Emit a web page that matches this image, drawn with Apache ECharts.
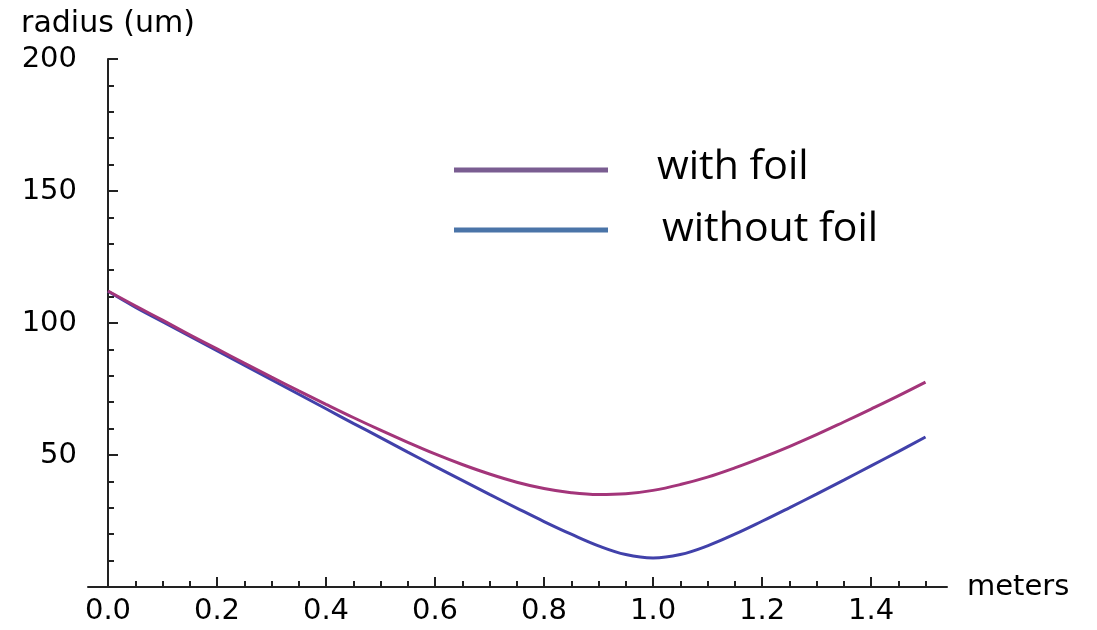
<!DOCTYPE html>
<html>
<head>
<meta charset="utf-8">
<title>Beam radius vs distance</title>
<script src="https://cdn.jsdelivr.net/npm/echarts@6/dist/echarts.min.js"></script>
<style>
  html, body { margin: 0; padding: 0; background: #ffffff; }
  #chart { width: 1097px; height: 630px; }
</style>
</head>
<body>
<div id="chart"></div>
<script>
// Distance along the beam line (meters)
const distance = [
  0.00, 0.05, 0.10, 0.15, 0.20, 0.25, 0.30, 0.35, 0.40, 0.45,
  0.50, 0.55, 0.60, 0.65, 0.70, 0.75, 0.80, 0.85, 0.90, 0.95,
  1.00, 1.05, 1.10, 1.15, 1.20, 1.25, 1.30, 1.35, 1.40, 1.45, 1.50
];

// Beam radius (um) with the foil in place
const withFoil = [
  112.1, 106.5, 101.1, 95.5, 90.2, 84.8, 79.5, 74.3, 69.2, 64.2,
  59.4, 54.8, 50.4, 46.4, 42.8, 39.7, 37.3, 35.7, 35.0, 35.3,
  36.6, 38.8, 41.6, 45.1, 49.0, 53.2, 57.7, 62.5, 67.4, 72.4, 77.6
];

// Beam radius (um) without the foil
const withoutFoil = [
  112.0, 106.0, 100.5, 95.0, 89.5, 84.0, 78.5, 73.0, 67.5, 62.0,
  56.6, 51.1, 45.7, 40.4, 35.1, 29.9, 24.8, 20.0, 15.6, 12.3,
  11.0, 12.3, 15.6, 20.0, 24.9, 30.0, 35.2, 40.5, 45.9, 51.3, 56.8
];

const seriesNames = ['with foil', 'without foil'];
const curveColors = ['#a3357a', '#4141aa'];
const keyColors = ['#7a5d91', '#4a74a8'];

// Tick positions on the distance axis
const xMajorTicks = [0.0, 0.2, 0.4, 0.6, 0.8, 1.0, 1.2, 1.4];
const xMinorTicks = [0.05, 0.10, 0.15, 0.25, 0.30, 0.35, 0.45, 0.50, 0.55,
  0.65, 0.70, 0.75, 0.85, 0.90, 0.95, 1.05, 1.10, 1.15, 1.25, 1.30, 1.35, 1.45, 1.50];

const axisFont = 'DejaVu Sans';
const axisColor = '#222222';
const labelColor = '#000000';

const pairs = (ys) => distance.map((x, i) => [x, ys[i]]);

const chart = echarts.init(document.getElementById('chart'), null, { renderer: 'canvas' });

const option = {
  animation: false,
  backgroundColor: '#ffffff',
  grid: {
    left: 88,
    top: 59,
    width: 859,
    height: 528,
    outerBoundsMode: 'none'
  },
  xAxis: [
    {
      type: 'value',
      min: -0.0367,
      max: 1.5394,
      name: 'meters',
      nameLocation: 'end',
      nameGap: 20,
      nameTextStyle: { fontFamily: axisFont, fontSize: 29, color: labelColor },
      splitLine: { show: false },
      axisLine: { show: true, onZero: false, lineStyle: { color: axisColor, width: 2 } },
      axisTick: {
        show: true, inside: true, length: 10,
        customValues: xMajorTicks,
        lineStyle: { color: axisColor, width: 2 }
      },
      axisLabel: {
        show: true,
        customValues: xMajorTicks,
        margin: 10,
        fontFamily: axisFont,
        fontSize: 29,
        color: labelColor,
        formatter: (v) => v.toFixed(1)
      }
    },
    {
      type: 'value',
      position: 'bottom',
      min: -0.0367,
      max: 1.5394,
      splitLine: { show: false },
      axisLine: { show: false, onZero: false },
      axisTick: {
        show: true, inside: true, length: 6,
        customValues: xMinorTicks,
        lineStyle: { color: axisColor, width: 2 }
      },
      axisLabel: { show: false }
    }
  ],
  yAxis: {
    type: 'value',
    min: 0,
    max: 200,
    interval: 50,
    name: 'radius (um)',
    nameLocation: 'end',
    nameGap: 20,
    nameTextStyle: { fontFamily: axisFont, fontSize: 30, color: labelColor, align: 'center' },
    splitLine: { show: false },
    axisLine: { show: true, onZero: true, onZeroAxisIndex: 0, lineStyle: { color: axisColor, width: 2 } },
    axisTick: { show: true, inside: true, length: 10, lineStyle: { color: axisColor, width: 2 } },
    minorTick: { show: true, splitNumber: 5, length: 6, lineStyle: { color: axisColor, width: 2 } },
    axisLabel: {
      margin: 11,
      fontFamily: axisFont,
      fontSize: 29,
      color: labelColor,
      formatter: (v) => (v === 0 ? '' : String(v))
    }
  },
  series: [
    {
      name: seriesNames[0],
      type: 'line',
      data: pairs(withFoil),
      showSymbol: false,
      smooth: 0.4,
      lineStyle: { color: curveColors[0], width: 3 },
      itemStyle: { color: curveColors[0] },
      z: 3
    },
    {
      name: seriesNames[1],
      type: 'line',
      data: pairs(withoutFoil),
      showSymbol: false,
      smooth: 0.4,
      lineStyle: { color: curveColors[1], width: 3 },
      itemStyle: { color: curveColors[1] },
      z: 2
    }
  ],
  // Key drawn as a free-standing block in the upper right of the plot
  graphic: [
    {
      type: 'line',
      shape: { x1: 454, y1: 170, x2: 608, y2: 170 },
      style: { stroke: keyColors[0], lineWidth: 5 }
    },
    {
      type: 'text',
      x: 657, y: 167,
      style: {
        text: seriesNames[0],
        fontFamily: 'Open Sans',
        fontSize: 41,
        fill: '#000000',
        verticalAlign: 'middle'
      }
    },
    {
      type: 'line',
      shape: { x1: 454, y1: 230, x2: 608, y2: 230 },
      style: { stroke: keyColors[1], lineWidth: 5 }
    },
    {
      type: 'text',
      x: 662, y: 229,
      style: {
        text: seriesNames[1],
        fontFamily: 'Open Sans',
        fontSize: 41,
        fill: '#000000',
        verticalAlign: 'middle'
      }
    }
  ]
};

chart.setOption(option);
</script>
</body>
</html>
